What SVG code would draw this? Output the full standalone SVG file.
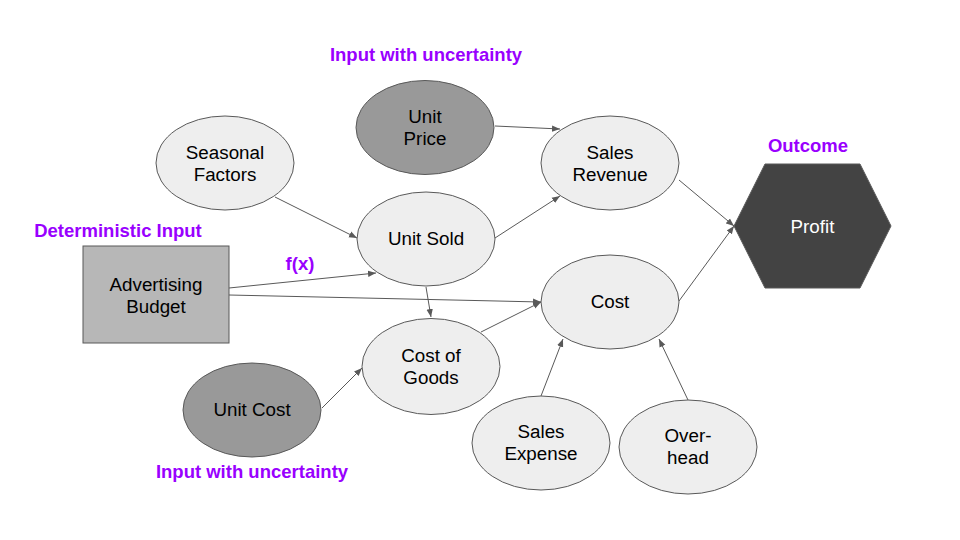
<svg xmlns="http://www.w3.org/2000/svg" width="960" height="540" viewBox="0 0 960 540">
<defs>
<marker id="ah" viewBox="0 0 10 10" refX="10" refY="5" markerWidth="8" markerHeight="8" markerUnits="userSpaceOnUse" orient="auto">
<path d="M0,1 L10,5 L0,9 z" fill="#595959"/>
</marker>
<style>
.n{fill:#eeeeee;stroke:#595959;stroke-width:1}
.d{fill:#999999;stroke:#595959;stroke-width:1}
.t{font-family:"Liberation Sans",Arial,sans-serif;font-size:18.8px;fill:#000;text-anchor:middle}
.lab{font-family:"Liberation Sans",Arial,sans-serif;font-size:18.5px;font-weight:bold;fill:#9900ff;text-anchor:middle}
.c{stroke:#595959;stroke-width:1;fill:none;marker-end:url(#ah)}
</style>
</defs>
<rect width="960" height="540" fill="#fff"/>
<g id="connectors">
<line class="c" x1="495" y1="126" x2="560" y2="129"/>
<line class="c" x1="275" y1="197" x2="357" y2="238"/>
<line class="c" x1="495" y1="238" x2="560" y2="196"/>
<line class="c" x1="679" y1="180" x2="734" y2="226"/>
<line class="c" x1="679" y1="301" x2="734" y2="226"/>
<line class="c" x1="229" y1="288" x2="376" y2="273"/>
<line class="c" x1="229" y1="295" x2="541" y2="302"/>
<line class="c" x1="426" y1="287" x2="431" y2="317"/>
<line class="c" x1="481" y1="332" x2="541" y2="302"/>
<line class="c" x1="322" y1="408" x2="362" y2="368"/>
<line class="c" x1="541" y1="396" x2="563" y2="339"/>
<line class="c" x1="688" y1="400" x2="659" y2="339"/>
</g>
<g id="unit-price"><ellipse class="d" cx="425" cy="127.5" rx="69" ry="47"/><text class="t" x="425" y="123">Unit</text><text class="t" x="425" y="145">Price</text></g>
<g id="seasonal-factors"><ellipse class="n" cx="225" cy="163" rx="69" ry="47"/><text class="t" x="225" y="159">Seasonal</text><text class="t" x="225" y="181">Factors</text></g>
<g id="unit-sold"><ellipse class="n" cx="426" cy="239" rx="69" ry="47"/><text class="t" x="426" y="245">Unit Sold</text></g>
<g id="sales-revenue"><ellipse class="n" cx="610" cy="163" rx="69" ry="47"/><text class="t" x="610" y="159">Sales</text><text class="t" x="610" y="181">Revenue</text></g>
<g id="cost"><ellipse class="n" cx="610" cy="302" rx="69" ry="47"/><text class="t" x="610" y="308">Cost</text></g>
<g id="cost-of-goods"><ellipse class="n" cx="431" cy="366.5" rx="69" ry="48"/><text class="t" x="431" y="362">Cost of</text><text class="t" x="431" y="384">Goods</text></g>
<g id="unit-cost"><ellipse class="d" cx="252" cy="410" rx="69" ry="47"/><text class="t" x="252" y="416">Unit Cost</text></g>
<g id="sales-expense"><ellipse class="n" cx="541" cy="443" rx="69" ry="47"/><text class="t" x="541" y="438">Sales</text><text class="t" x="541" y="460">Expense</text></g>
<g id="overhead"><ellipse class="n" cx="688" cy="447" rx="69" ry="47"/><text class="t" x="688" y="442">Over-</text><text class="t" x="688" y="464">head</text></g>
<g id="advertising-budget"><rect x="83" y="246" width="146" height="97" fill="#b7b7b7" stroke="#595959"/><text class="t" x="156" y="291">Advertising</text><text class="t" x="156" y="313">Budget</text></g>
<g id="profit"><polygon points="734,226 765,164 860,164 891,226 860,288 765,288" fill="#434343" stroke="#595959"/><text class="t" x="812.5" y="233" style="fill:#ffffff">Profit</text></g>
<text class="lab" x="426" y="61">Input with uncertainty</text>
<text class="lab" x="808" y="152">Outcome</text>
<text class="lab" x="118" y="237">Deterministic Input</text>
<text class="lab" x="300" y="270">f(x)</text>
<text class="lab" x="252" y="478">Input with uncertainty</text>
</svg>
